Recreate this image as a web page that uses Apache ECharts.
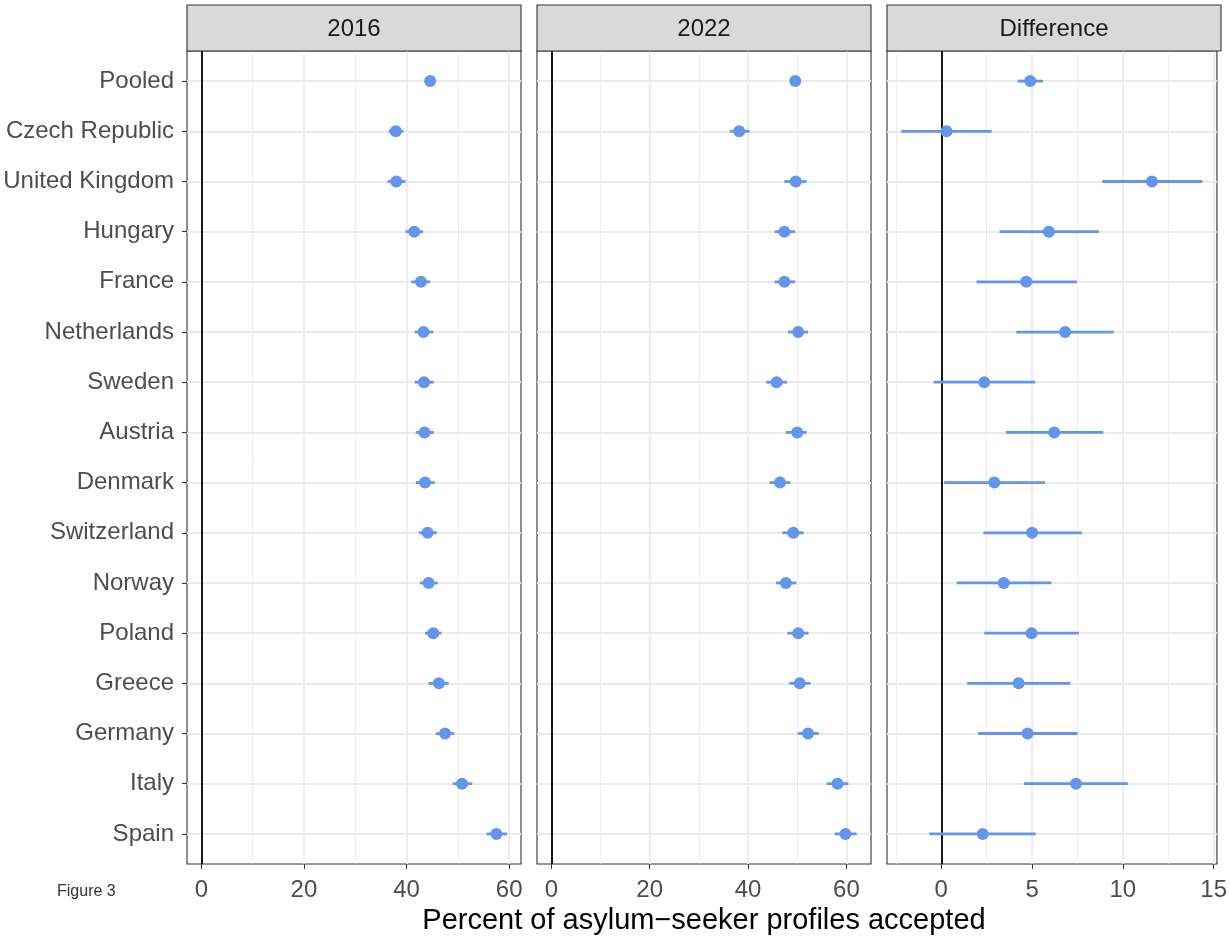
<!DOCTYPE html>
<html>
<head>
<meta charset="utf-8">
<script src="https://cdn.jsdelivr.net/npm/echarts@6/dist/echarts.min.js"></script>
<style>
html,body{margin:0;padding:0;background:#fff;}
#chart{width:1230px;height:937px;}
</style>
</head>
<body>
<div id="chart"></div>
<script>
const categories = ['Pooled','Czech Republic','United Kingdom','Hungary','France','Netherlands','Sweden','Austria','Denmark','Switzerland','Norway','Poland','Greece','Germany','Italy','Spain'];
const panelTitles = ['2016','2022','Difference'];

const est2016 = [44.6, 37.9, 38.0, 41.5, 42.8, 43.3, 43.4, 43.5, 43.6, 44.1, 44.3, 45.2, 46.3, 47.5, 50.8, 57.5];
const lo2016  = [44.1, 36.5, 36.3, 39.8, 40.9, 41.6, 41.6, 41.8, 41.8, 42.4, 42.6, 43.6, 44.3, 45.7, 49.0, 55.6];
const hi2016  = [45.1, 39.4, 39.8, 43.2, 44.6, 45.2, 45.3, 45.3, 45.5, 45.9, 46.1, 46.8, 48.2, 49.3, 52.8, 59.6];

const est2022 = [49.6, 38.2, 49.7, 47.4, 47.4, 50.2, 45.8, 50.0, 46.5, 49.2, 47.7, 50.2, 50.5, 52.2, 58.2, 59.8];
const lo2022  = [49.1, 36.3, 47.4, 45.4, 45.4, 48.1, 43.7, 47.7, 44.4, 47.0, 45.7, 48.0, 48.4, 50.1, 56.0, 57.6];
const hi2022  = [50.1, 40.3, 51.9, 49.6, 49.6, 52.2, 47.9, 51.9, 48.6, 51.3, 49.8, 52.3, 52.7, 54.4, 60.4, 62.1];

const estDiff = [4.90, 0.29, 11.6, 5.93, 4.68, 6.82, 2.37, 6.22, 2.92, 5.00, 3.44, 4.97, 4.26, 4.75, 7.42, 2.28];
const loDiff  = [4.20, -2.20, 8.87, 3.21, 1.94, 4.13, -0.42, 3.55, 0.16, 2.32, 0.85, 2.37, 1.43, 2.03, 4.55, -0.65];
const hiDiff  = [5.60, 2.77, 14.38, 8.68, 7.47, 9.50, 5.17, 8.92, 5.71, 7.74, 6.06, 7.58, 7.11, 7.51, 10.28, 5.20];

const majorTicks = [[0,20,40,60],[0,20,40,60],[0,5,10,15]];
const minorTicks = [[10,30,50],[10,30,50],[-2.5,2.5,7.5,12.5]];
const xRanges = [[-2.79, 62.3],[-2.91, 65.0],[-2.99, 15.18]];

const xTitle = 'Percent of asylum\u2212seeker profiles accepted';
const caption = 'Figure 3';

const FONT = '"Liberation Sans", Arial, Helvetica, sans-serif';
const BLUE = '#6495ED';
const panels = [
  {est: est2016, lo: lo2016, hi: hi2016},
  {est: est2022, lo: lo2022, hi: hi2022},
  {est: estDiff, lo: loDiff, hi: hiDiff}
];
const panelLeft = [187, 537, 887];
const panelWidth = 334;
const panelTop = 51;
const panelHeight = 813;
const yIdx = categories.map((c, i) => i);

const grids = [], xAxes = [], yAxes = [], series = [], graphics = [];
panels.forEach((p, k) => {
  grids.push({left: panelLeft[k], top: panelTop, width: panelWidth, height: panelHeight,
    show: true, borderColor: '#333', borderWidth: 1.1, backgroundColor: '#fff', containLabel: false});
  xAxes.push({type: 'value', gridIndex: k, min: xRanges[k][0], max: xRanges[k][1], position: 'bottom',
    axisLine: {show: false, onZero: false},
    axisTick: {show: true, length: 5, customValues: majorTicks[k], lineStyle: {color: '#333', width: 1.1}},
    axisLabel: {show: true, customValues: majorTicks[k], margin: 14, fontSize: 24, color: '#4D4D4D', fontFamily: FONT},
    splitLine: {show: true, lineStyle: {color: '#EBEBEB', width: 1.8}}
  });
  xAxes.push({type: 'value', gridIndex: k, min: xRanges[k][0], max: xRanges[k][1], position: 'bottom',
    axisLine: {show: false, onZero: false},
    axisTick: {show: false, customValues: minorTicks[k]},
    axisLabel: {show: false},
    splitLine: {show: true, lineStyle: {color: '#EBEBEB', width: 0.9}}
  });
  yAxes.push({type: 'value', gridIndex: k, inverse: true, min: -0.6, max: categories.length - 0.4, position: 'left',
    axisLine: {show: false, onZero: false},
    axisTick: {show: k === 0, length: 5, customValues: yIdx, lineStyle: {color: '#333', width: 1.1}},
    axisLabel: {show: k === 0, customValues: yIdx, margin: 13, fontSize: 24, color: '#4D4D4D', fontFamily: FONT,
      padding: [4, 0, 0, 0],
      formatter: v => categories[Math.round(v)]},
    splitLine: {show: true, lineStyle: {color: '#EBEBEB', width: 1.8}}
  });
  const xi = 2 * k;
  series.push({
    type: 'custom', xAxisIndex: xi, yAxisIndex: k, silent: true, z: 3,
    data: p.est.map((v, i) => [p.lo[i], p.hi[i], i]),
    encode: {x: [0, 1], y: 2},
    renderItem: function (params, api) {
      const a = api.coord([api.value(0), api.value(2)]);
      const b = api.coord([api.value(1), api.value(2)]);
      return {type: 'line', shape: {x1: a[0], y1: a[1], x2: b[0], y2: b[1]},
        style: {stroke: BLUE, lineWidth: 2.8}};
    },
    markLine: {silent: true, symbol: 'none', label: {show: false}, animation: false,
      lineStyle: {color: '#000', width: 1.8, type: 'solid'}, data: [{xAxis: 0}], z: 2}
  });
  series.push({
    type: 'scatter', xAxisIndex: xi, yAxisIndex: k, silent: true, z: 4,
    symbol: 'circle', symbolSize: 12, itemStyle: {color: BLUE, opacity: 1},
    data: p.est.map((v, i) => [v, i])
  });
  graphics.push({type: 'rect', shape: {x: panelLeft[k], y: 5, width: panelWidth, height: panelTop - 5},
    style: {fill: '#D9D9D9', stroke: '#333', lineWidth: 1.1}, z: 10});
  graphics.push({type: 'text', x: panelLeft[k] + panelWidth / 2, y: 29,
    style: {text: panelTitles[k], fill: '#1A1A1A', font: '24px ' + FONT, textAlign: 'center', textVerticalAlign: 'middle'}, z: 11});
});
graphics.push({type: 'text', x: (panelLeft[0] + panelLeft[2] + panelWidth) / 2, y: 921,
  style: {text: xTitle, fill: '#000', font: '29px ' + FONT, textAlign: 'center', textVerticalAlign: 'middle'}, z: 11});
graphics.push({type: 'text', x: 57, y: 892,
  style: {text: caption, fill: '#333', font: '16px ' + FONT, textAlign: 'left', textVerticalAlign: 'middle'}, z: 11});

const chart = echarts.init(document.getElementById('chart'), null, {renderer: 'canvas'});
chart.setOption({
  animation: false,
  backgroundColor: '#fff',
  grid: grids, xAxis: xAxes, yAxis: yAxes, series: series, graphic: graphics
});
</script>
</body>
</html>
